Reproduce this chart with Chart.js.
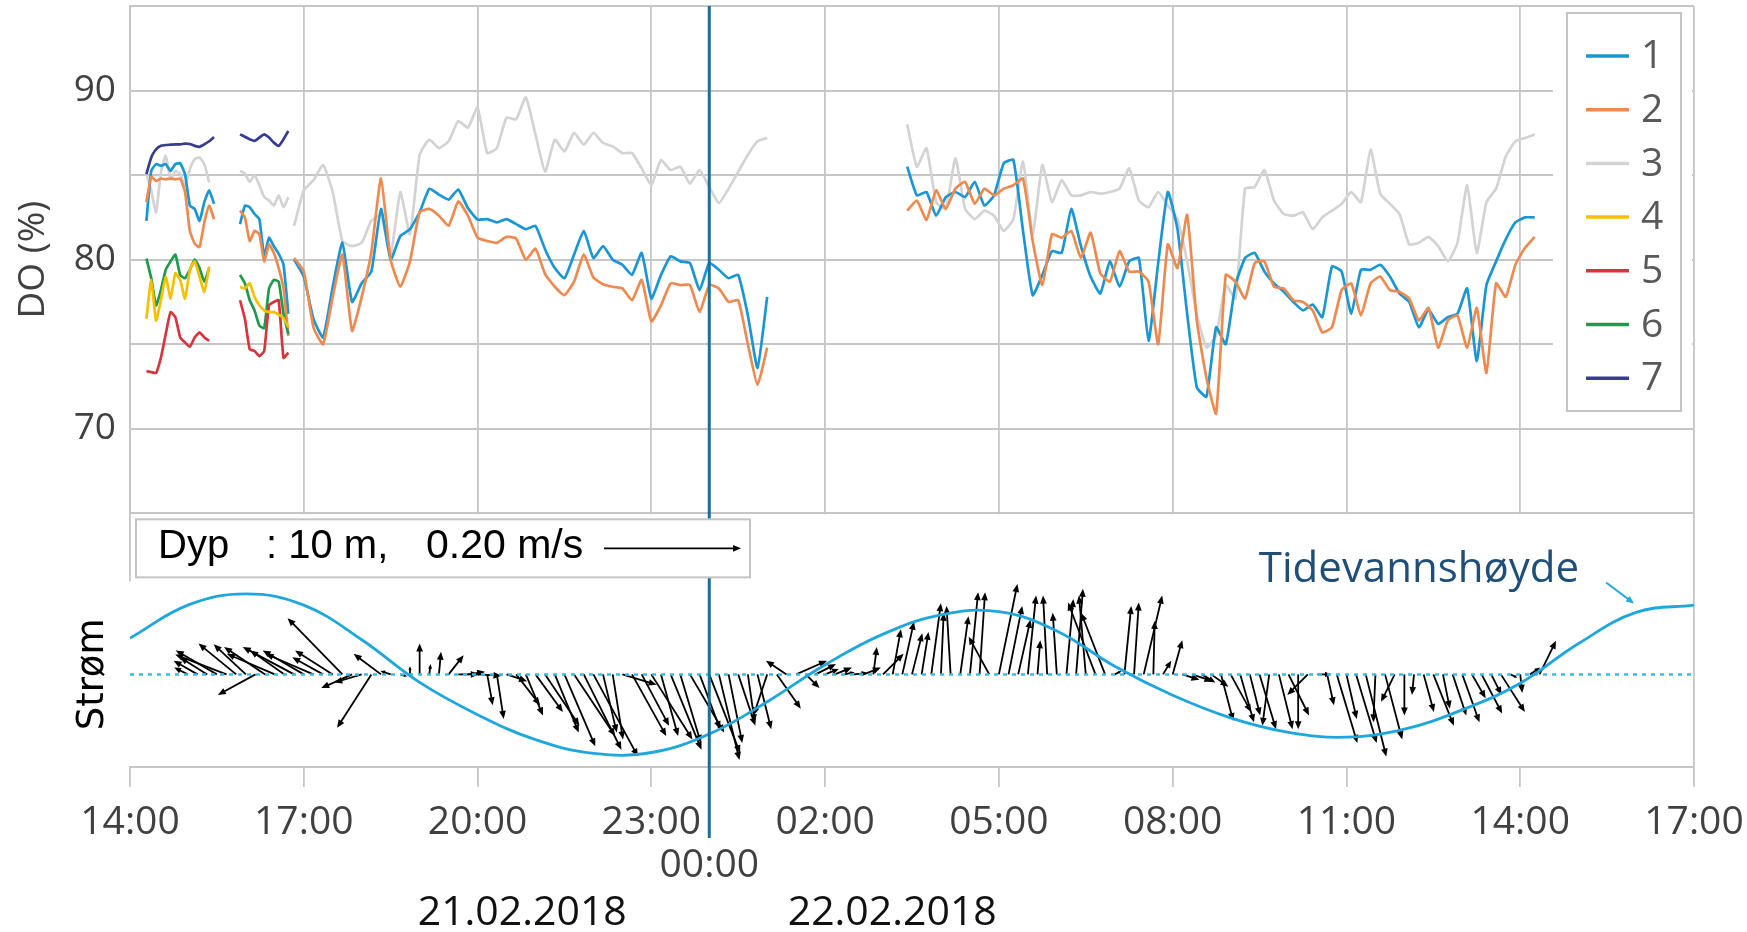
<!DOCTYPE html>
<html>
<head>
<meta charset="utf-8">
<script src="https://cdn.jsdelivr.net/npm/chart.js@4.4.1/dist/chart.umd.min.js"></script>
<style>
  html, body { margin: 0; padding: 0; background: #ffffff; }
  #wrap { width: 1747px; height: 932px; }
</style>
</head>
<body>
<div id="wrap"><canvas id="doChart" width="1747" height="932"></canvas></div>
<script>
// ---- x axis (hours from 00:00 on 21.02.2018) ----
const xTickHours = [14, 17, 20, 23, 26, 29, 32, 35, 38, 41];
const xTickLabels = ['14:00', '17:00', '20:00', '23:00', '02:00', '05:00', '08:00', '11:00', '14:00', '17:00'];
const doTickLabels = [70, 80, 90];

// ---- DO (%) series, logged in segments: day, start time, step (min), values ----
const do1 = [
  {day: 1, start: '14:17', step: 5, values: [82.3, 85.25, 85.65, 85.55, 85.65, 85.25, 85.65, 85.7, 85.05, 83.2, 83.0, 82.3, 83.4, 84.1, 83.3]},
  {day: 1, start: '15:54', step: 5, values: [82.1, 83.2, 83.1, 82.7, 82.4, 80.2, 81.3, 80.8, 80.35, 79.7, 76.8]},
  {day: 1, start: '16:50', step: 10, values: [80.0, 79.0, 76.5, 75.4, 78.4, 81.0, 77.5, 78.6, 79.3, 83.0, 80.0, 81.4, 81.8, 82.8, 84.2,
    83.85, 83.55, 84.15, 83.05, 82.37, 82.4, 82.2, 82.4, 82.1, 81.8, 82.0, 80.6, 79.5, 78.9, 80.3, 81.7, 80.1, 80.8, 80.0, 79.7,
    79.1, 80.4, 77.7, 79.1, 80.2, 79.9, 79.8, 78.2, 79.8, 79.4, 78.9, 79.1, 76.7, 73.6, 77.8]},
  {day: 2, start: '03:25', step: 10, values: [85.5, 83.8, 84.0, 82.6, 83.7, 84.0, 83.7, 84.6, 83.2, 83.8, 85.7, 85.9, 81.7, 77.9,
    79.1, 80.5, 80.4, 83.0, 80.8, 79.0, 78.0, 79.9, 78.4, 79.9, 80.1, 75.2, 79.8, 84.0, 81.8, 76.8, 72.45, 71.9, 76.0, 75.0, 78.5,
    80.1, 80.4, 79.3, 78.6, 78.1, 77.5, 77.0, 77.35, 76.6, 79.6, 79.3, 76.8, 79.4, 79.4, 79.7, 79.0, 78.0, 77.5, 76.0, 77.05, 76.2,
    76.6, 76.8, 78.3, 74.0, 78.5, 79.9, 81.2, 82.2, 82.5, 82.5]}
];
const do2 = [
  {day: 1, start: '14:17', step: 5, values: [83.4, 84.9, 84.65, 84.8, 84.75, 84.8, 84.75, 84.8, 84.0, 81.7, 80.95, 80.75, 82.2, 83.2, 82.4]},
  {day: 1, start: '15:54', step: 5, values: [82.9, 82.5, 81.1, 81.7, 81.5, 79.9, 80.9, 80.4, 79.5, 78.3, 75.5]},
  {day: 1, start: '16:50', step: 10, values: [80.1, 79.3, 76.0, 75.0, 77.8, 80.3, 75.8, 77.8, 80.45, 84.8, 80.0, 78.4, 79.9, 82.8, 83.0,
    82.6, 82.0, 83.45, 82.6, 81.3, 81.1, 81.0, 81.35, 81.25, 80.0, 80.65, 79.15, 78.4, 77.9, 78.7, 80.3, 78.95, 78.55, 78.4, 78.3,
    77.6, 78.8, 76.35, 77.3, 78.6, 78.5, 78.5, 76.9, 78.5, 78.3, 77.5, 77.6, 75.0, 72.6, 74.8]},
  {day: 2, start: '03:25', step: 10, values: [82.9, 83.5, 82.35, 84.1, 83.0, 84.2, 84.6, 83.3, 84.2, 83.8, 84.2, 84.4, 84.8, 81.1,
    78.5, 81.5, 81.3, 81.7, 80.1, 81.6, 79.2, 78.7, 80.5, 79.3, 79.3, 78.7, 75.0, 80.9, 79.5, 82.65, 76.4, 73.0, 70.9, 79.1, 78.7,
    77.7, 79.8, 79.9, 78.4, 78.3, 77.6, 77.5, 77.0, 75.7, 76.0, 78.2, 78.6, 76.7, 78.6, 79.0, 78.2, 78.1, 77.7, 76.4, 77.15, 74.8,
    76.4, 76.7, 74.8, 77.15, 73.3, 78.6, 77.8, 79.7, 80.7, 81.35]}
];
const do3 = [
  {day: 1, start: '14:17', step: 5, values: [85.06, 84.08, 82.8, 85.16, 86.14, 84.76, 85.25, 85.06, 84.37, 85.35, 85.94, 86.04, 85.65, 84.57]},
  {day: 1, start: '15:54', step: 5, values: [85.25, 85.1, 84.6, 85.0, 84.4, 83.7, 83.5, 83.2, 83.8, 83.1, 83.7]},
  {day: 1, start: '16:50', step: 10, values: [82.0, 84.1, 84.7, 85.6, 84.0, 81.1, 80.8, 81.0, 82.3, 82.6, 80.3, 84.0, 81.5, 86.2, 87.1,
    86.6, 87.0, 88.2, 87.8, 89.0, 86.3, 86.6, 88.4, 88.3, 89.6, 87.4, 85.2, 87.1, 86.4, 87.5, 86.8, 87.5, 86.9, 86.7, 86.3,
    86.3, 85.4, 84.4, 85.9, 85.3, 85.5, 84.5, 85.3, 84.3, 83.35, 84.2, 85.2, 86.2, 87.0, 87.2]},
  {day: 2, start: '03:25', step: 10, values: [88.0, 85.5, 86.6, 83.4, 83.0, 86.0, 83.0, 82.4, 82.9, 82.6, 81.7, 82.4, 85.8, 81.5,
    85.6, 83.4, 84.7, 83.8, 83.8, 84.0, 83.9, 84.0, 84.2, 85.4, 83.5, 83.1, 84.0, 83.2, 82.4, 79.9, 76.8, 74.8, 75.5, 78.5, 77.7,
    84.2, 84.3, 85.3, 83.5, 82.7, 82.6, 82.8, 81.8, 82.5, 82.9, 83.3, 84.0, 83.4, 86.5, 83.9, 83.3, 82.7, 80.9, 81.0, 81.35, 80.8,
    79.9, 81.0, 84.4, 80.4, 83.4, 84.2, 86.1, 87.0, 87.2, 87.4]}
];
const do4 = [
  {day: 1, start: '14:17', step: 5, values: [76.5, 78.8, 76.4, 77.6, 79.0, 77.7, 79.2, 78.8, 77.7, 79.4, 79.9, 79.0, 78.1, 79.6]},
  {day: 1, start: '15:54', step: 5, values: [78.4, 78.3, 78.6, 77.8, 77.3, 77.0, 76.9, 76.9, 76.75, 76.55, 76.0]}
];
const do5 = [
  {day: 1, start: '14:17', step: 5, values: [73.4, 73.35, 73.3, 74.2, 75.6, 76.9, 76.6, 75.4, 75.1, 74.85, 75.4, 75.7, 75.4, 75.2]},
  {day: 1, start: '15:54', step: 5, values: [77.6, 76.5, 74.7, 74.6, 74.3, 74.6, 77.3, 77.5, 77.6, 74.2, 74.5]}
];
const do6 = [
  {day: 1, start: '14:17', step: 5, values: [80.06, 78.9, 77.3, 78.2, 79.4, 79.9, 80.3, 79.1, 78.9, 79.4, 80.0, 79.5, 78.7, 79.5]},
  {day: 1, start: '15:54', step: 5, values: [79.1, 78.6, 77.6, 77.0, 76.1, 75.95, 78.3, 78.8, 78.7, 76.8, 75.6]}
];
const do7 = [
  {day: 1, start: '14:17', step: 5, values: [85.06, 86.04, 86.53, 86.73, 86.78, 86.8, 86.82, 86.82, 86.86, 86.84, 86.73, 86.67, 86.82, 87.0, 87.25]},
  {day: 1, start: '15:54', step: 5, values: [87.41, 87.27, 87.12, 87.02, 87.22, 87.41, 87.22, 86.92, 86.73, 87.12, 87.61]}
];
const seriesNames = ['1', '2', '3', '4', '5', '6', '7'];

// ---- tide height (cm, relative to mean) ----
const tideHour = [14, 15, 16, 17, 18, 19, 20, 21, 22, 23, 24, 25, 26, 27, 28, 29, 30, 31, 32, 33, 34, 35, 36, 37, 38, 39, 40, 41];
const tideLevel = [45, 86, 100, 86, 43, -10, -50, -81, -98, -97, -74, -34, 12, 50, 74, 78, 54, 10, -26, -54, -72, -78, -68, -44, -11, 38, 77, 86];

// ---- current at 10 m depth, every 10 min from 15:00 (east / north, m/s) ----
const currentStart = {day: 1, start: '15:00', step: 10};
const currentU = [
  -0.02, -0.035, -0.04, -0.06, -0.075, -0.055,
  -0.047, -0.055, -0.06, -0.07, -0.05, -0.075,
  -0.06, -0.07, -0.045, -0.055, -0.08, -0.045,
  -0.04, -0.05, -0.04, -0.015, 0.01, 0.0,
  0.0, 0.002, 0.003, 0.022, 0.03, 0.025,
  0.035, 0.008, 0.01, 0.03, 0.035, 0.025,
  0.04, 0.05, 0.035, 0.045, 0.06, 0.055,
  0.065, 0.02, 0.015, 0.05, 0.05, 0.04,
  0.06, 0.025, 0.045, 0.03, 0.05, 0.03,
  0.045, 0.03, 0.02, 0.025, 0.01, 0.02,
  -0.02, 0.035, -0.03, 0.045, 0.02, 0.03,
  0.02, 0.025, 0.015, 0.02, 0.025, 0.005,
  0.03, 0.012, 0.017, 0.015, 0.01, 0.014,
  0.004, -0.006, 0.012, 0.012, 0.008, -0.03,
  0.027, 0.02, 0.018, 0.012, 0.004, -0.006,
  -0.006, 0.01, 0.01, -0.01, -0.04, -0.035,
  0.01, 0.01, 0.007, 0.027, 0.002, 0.012,
  0.014, 0.025, 0.03, 0.02, 0.025, 0.018,
  0.03, 0.02, 0.015, 0.024, -0.01, 0.02,
  0.03, 0.0, -0.03, 0.02, 0.01, 0.03,
  0.015, 0.03, 0.03, -0.003, 0.025, -0.02,
  0.0, -0.003, 0.015, 0.03, 0.01, 0.02,
  0.025, 0.02, 0.03, 0.015, 0.035, 0.01,
  0.003, 0.015, 0.024
];
const currentV = [
  0.01, 0.02, 0.025, 0.035, 0.029, 0.045,
  0.044, -0.03, 0.04, 0.03, 0.035, 0.04,
  0.035, 0.03, 0.025, 0.035, 0.082, -0.02,
  -0.012, -0.078, 0.03, 0.005, -0.003, 0.012,
  0.045, 0.015, 0.033, 0.028, 0.0, 0.004,
  -0.002, -0.045, -0.065, -0.01, -0.045, -0.06,
  -0.055, -0.075, -0.085, -0.105, -0.09, -0.11,
  -0.12, -0.085, -0.095, -0.015, -0.09, -0.075,
  -0.095, -0.09, -0.11, -0.1, -0.085, -0.08,
  -0.115, -0.125, -0.1, -0.075, -0.07, -0.08,
  -0.06, -0.05, 0.02, 0.02, -0.02, 0.015,
  0.008, 0.01, 0.003, 0.002, 0.01, 0.04,
  0.03, 0.066, 0.077, 0.06, 0.062, 0.104,
  0.09, 0.1, 0.085, 0.12, 0.12, 0.055,
  0.132, 0.1, 0.08, 0.115, 0.05, 0.115,
  0.09, 0.11, 0.125, 0.115, 0.105, 0.09,
  0.005, 0.1, 0.105, 0.115, 0.078, 0.02,
  0.05, -0.008, -0.01, -0.012, -0.018, -0.068,
  -0.055, -0.07, -0.06, -0.08, -0.075, -0.08,
  -0.06, -0.08, -0.03, 0.0, -0.045, -0.1,
  -0.065, -0.1, -0.12, -0.07, -0.095, -0.04,
  -0.06, -0.03, -0.055, -0.075, -0.05, -0.06,
  -0.07, -0.035, -0.057, -0.03, -0.055, -0.005,
  -0.027, 0.01, 0.049
];
const refSpeed = 0.20; // m/s, key arrow

// ---- styling ----
const colors = ['#1a96d5', '#ee8a4f', '#d3d3d3', '#f5c000', '#d8343c', '#1d9a4c', '#363c8f'];
const drawOrder = [2, 1, 3, 0, 0, 0, 0];
const gridColor = '#c6c6c6';
const tickColor = '#404040';
const ARROW_PX_PER_MS = 685;

function toHours(day, hhmm) {
  const [h, m] = hhmm.split(':').map(Number);
  return (day - 1) * 24 + h + m / 60;
}

function segPoints(segs) {
  const pts = [];
  segs.forEach((s, k) => {
    const t0 = toHours(s.day, s.start);
    if (k > 0) pts.push({x: t0 - 0.02, y: null});
    s.values.forEach((v, i) => pts.push({x: t0 + i * s.step / 60, y: v}));
  });
  return pts;
}

const doSeries = [do1, do2, do3, do4, do5, do6, do7];
const datasets = doSeries.map((segs, i) => ({
  label: seriesNames[i],
  data: segPoints(segs),
  borderColor: colors[i],
  borderWidth: 2.7,
  pointRadius: 0,
  tension: 0.15,
  spanGaps: false,
  order: drawOrder[i],
  yAxisID: 'y'
}));
datasets.push({
  label: 'tide',
  data: tideHour.map((h, i) => ({x: h, y: tideLevel[i]})),
  borderColor: '#1ea7df',
  borderWidth: 2.8,
  pointRadius: 0,
  tension: 0.4,
  yAxisID: 'y2',
  order: 0
});
datasets.push({
  label: 'zero',
  data: [{x: xTickHours[0], y: 0}, {x: xTickHours[xTickHours.length - 1], y: 0}],
  borderColor: '#3bbbe8',
  borderWidth: 2.5,
  borderDash: [4, 5],
  pointRadius: 0,
  yAxisID: 'y2',
  order: 5
});

function drawArrow(ctx, x0, y0, x1, y1) {
  const len = Math.hypot(x1 - x0, y1 - y0);
  if (len < 0.5) return;
  const ang = Math.atan2(y1 - y0, x1 - x0);
  const hl = Math.min(8, len * 0.45);
  const hw = hl * 0.42;
  ctx.beginPath();
  ctx.moveTo(x0, y0);
  ctx.lineTo(x1 - Math.cos(ang) * hl * 0.7, y1 - Math.sin(ang) * hl * 0.7);
  ctx.stroke();
  ctx.save();
  ctx.translate(x1, y1);
  ctx.rotate(ang);
  ctx.beginPath();
  ctx.moveTo(0, 0);
  ctx.lineTo(-hl, -hw);
  ctx.lineTo(-hl, hw);
  ctx.closePath();
  ctx.fill();
  ctx.restore();
}

const panels = {
  id: 'panels',
  beforeDatasetsDraw(chart) {
    const {ctx, scales: {x, y2}} = chart;
    ctx.save();
    // lower panel has no vertical grid
    ctx.fillStyle = '#ffffff';
    ctx.fillRect(x.left + 1, y2.top + 1, x.right - x.left - 3, y2.bottom - y2.top - 2);
    ctx.fillRect(x.left - 4, y2.top + 68, 6, y2.bottom - y2.top - 69);
    // current arrows
    const base = y2.getPixelForValue(0);
    const t0 = toHours(currentStart.day, currentStart.start);
    ctx.strokeStyle = '#000';
    ctx.fillStyle = '#000';
    ctx.lineWidth = 1.8;
    currentU.forEach((u, i) => {
      const px = x.getPixelForValue(t0 + i * currentStart.step / 60);
      drawArrow(ctx, px, base, px + u * ARROW_PX_PER_MS, base - currentV[i] * ARROW_PX_PER_MS);
    });
    ctx.restore();
  },
  afterDraw(chart) {
    const {ctx, scales: {x, y, y2}} = chart;
    ctx.save();
    const midX = x.getPixelForValue(24);

    // midnight line
    ctx.strokeStyle = '#1670a2';
    ctx.lineWidth = 3;
    ctx.beginPath();
    ctx.moveTo(midX, y.top);
    ctx.lineTo(midX, y2.bottom + 71);
    ctx.stroke();

    // key box for the arrows
    ctx.fillStyle = '#ffffff';
    ctx.fillRect(136, y2.top + 6, 614, 58);
    ctx.strokeStyle = '#c4c4c4';
    ctx.lineWidth = 2;
    ctx.strokeRect(136, y2.top + 6, 614, 58);
    ctx.fillStyle = '#000';
    ctx.textBaseline = 'alphabetic';
    ctx.textAlign = 'left';
    ctx.font = '40px "Liberation Sans", Arial, sans-serif';
    ctx.fillText('Dyp', 158, y2.top + 45);
    ctx.fillText(': 10 m,', 266, y2.top + 45);
    ctx.font = '41px "Liberation Sans", Arial, sans-serif';
    ctx.fillText('0.20 m/s', 426, y2.top + 45);
    ctx.strokeStyle = '#000';
    ctx.lineWidth = 1.8;
    drawArrow(ctx, 604, y2.top + 35, 604 + refSpeed * ARROW_PX_PER_MS, y2.top + 35);

    // series legend
    ctx.fillStyle = '#ffffff';
    ctx.fillRect(1553, y.top + 1, x.right - 1555, 412);
    ctx.strokeStyle = '#c4c4c4';
    ctx.lineWidth = 2;
    ctx.strokeRect(1567, 13, 114, 398);
    ctx.font = '39px "Open Sans", sans-serif';
    ctx.textBaseline = 'middle';
    chart.data.datasets.slice(0, 7).forEach((ds, i) => {
      const ly = 56 + i * 53.7;
      ctx.strokeStyle = ds.borderColor;
      ctx.lineWidth = 3.5;
      ctx.beginPath();
      ctx.moveTo(1586, ly);
      ctx.lineTo(1629, ly);
      ctx.stroke();
      ctx.fillStyle = '#595959';
      ctx.fillText(ds.label, 1641, ly + 1);
    });

    // axis titles
    ctx.fillStyle = tickColor;
    ctx.font = '37px "Open Sans", sans-serif';
    ctx.textAlign = 'center';
    ctx.save();
    ctx.translate(33, (y.top + y.bottom) / 2);
    ctx.rotate(-Math.PI / 2);
    ctx.fillText('DO (%)', 0, 0);
    ctx.restore();
    ctx.fillStyle = '#000';
    ctx.font = '37px "DejaVu Sans", sans-serif';
    ctx.save();
    ctx.translate(93, y2.getPixelForValue(0));
    ctx.rotate(-Math.PI / 2);
    ctx.fillText('Strøm', 0, 0);
    ctx.restore();

    // midnight and date labels
    ctx.textBaseline = 'alphabetic';
    ctx.fillStyle = tickColor;
    ctx.font = '39px "Open Sans", sans-serif';
    ctx.fillText('00:00', midX, 877);
    ctx.fillStyle = '#111';
    ctx.font = '41px "Open Sans", sans-serif';
    ctx.fillText('21.02.2018', midX - 187, 925);
    ctx.fillText('22.02.2018', midX + 183, 925);

    // tide label
    const tipX = x.getPixelForValue(40) - 2;
    const tipY = y2.getPixelForValue(88);
    ctx.fillStyle = '#1f4e79';
    ctx.font = '42px "Open Sans", sans-serif';
    ctx.textAlign = 'right';
    ctx.fillText('Tidevannshøyde', tipX - 55, tipY - 22);
    ctx.strokeStyle = '#29a8e0';
    ctx.fillStyle = '#29a8e0';
    ctx.lineWidth = 2;
    drawArrow(ctx, tipX - 28, tipY - 21, tipX, tipY);
    ctx.restore();
  }
};

new Chart(document.getElementById('doChart'), {
  type: 'line',
  data: {datasets: datasets},
  plugins: [panels],
  options: {
    responsive: false,
    animation: false,
    events: [],
    layout: {padding: {top: 6, right: 53, bottom: 90, left: 0}},
    plugins: {legend: {display: false}, tooltip: {enabled: false}},
    scales: {
      x: {
        type: 'linear',
        min: xTickHours[0],
        max: xTickHours[xTickHours.length - 1],
        afterBuildTicks: (s) => { s.ticks = xTickHours.map(v => ({value: v})); },
        afterFit: (s) => { s.height = 75; s.paddingLeft = 0; s.paddingRight = 0; },
        grid: {color: gridColor, lineWidth: 1.8, tickLength: 20, tickColor: gridColor},
        border: {color: gridColor, width: 2},
        ticks: {
          autoSkip: false,
          maxRotation: 0,
          padding: 12,
          color: tickColor,
          font: {family: '"Open Sans", sans-serif', size: 39},
          callback: (v) => xTickLabels[xTickHours.indexOf(v)]
        }
      },
      y: {
        type: 'linear',
        position: 'left',
        stack: 'panels',
        stackWeight: 2,
        weight: 1,
        min: 65,
        max: 95,
        afterFit: (s) => { s.width = 130; s.paddingTop = 0; s.paddingBottom = 0; },
        grid: {color: gridColor, lineWidth: 2, drawTicks: false},
        border: {color: gridColor, width: 2},
        ticks: {
          stepSize: 5,
          autoSkip: false,
          padding: 14,
          color: tickColor,
          font: {family: '"Open Sans", sans-serif', size: 37},
          callback: (v) => doTickLabels.includes(v) ? String(v) : ''
        }
      },
      y2: {
        type: 'linear',
        position: 'left',
        stack: 'panels',
        stackWeight: 1,
        weight: 0,
        min: -115,
        max: 200,
        afterFit: (s) => { s.width = 130; s.paddingTop = 0; s.paddingBottom = 0; },
        grid: {display: false},
        border: {display: false},
        ticks: {display: false}
      }
    }
  }
});
</script>
</body>
</html>
